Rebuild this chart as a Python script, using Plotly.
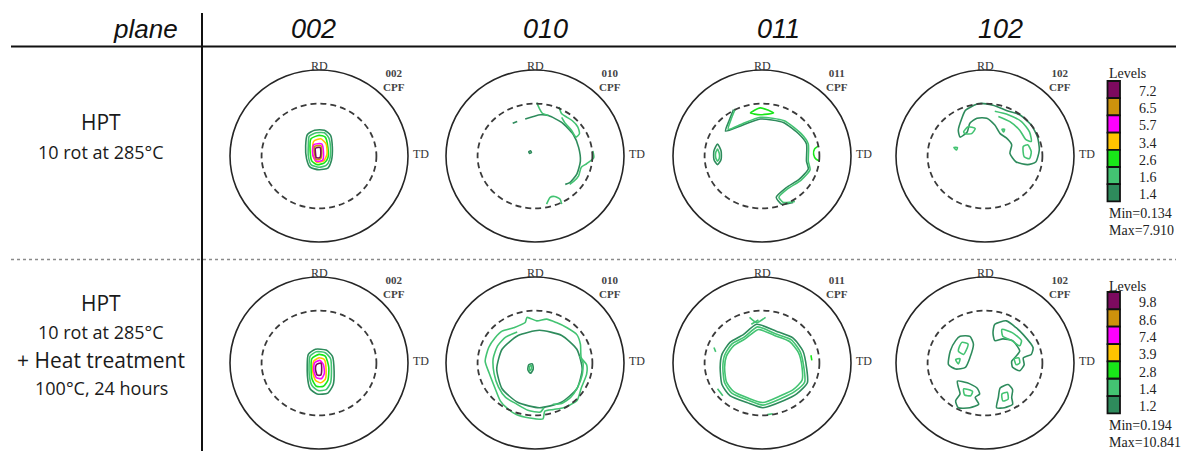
import plotly.graph_objects as go

W, H = 1181, 451

# ---------------------------------------------------------------- data
PLANES = ["002", "010", "011", "102"]
ROW_TEXT = [
    [("HPT", 21), ("10 rot at 285°C", 18)],
    [("HPT", 21), ("10 rot at 285°C", 18), ("+ Heat treatment", 21), ("100°C, 24 hours", 18)],
]

LEVELS_HPT = [7.2, 6.5, 5.7, 3.4, 2.6, 1.6, 1.4]
LEVELS_HT = [9.8, 8.6, 7.4, 3.9, 2.8, 1.4, 1.2]
MIN_MAX_HPT = [0.134, 7.910]
MIN_MAX_HT = [0.194, 10.841]

# colour of each contour level, highest level first
LEVEL_COLORS = ["#7d0a5f", "#cc920c", "#ff00ff", "#ffc400", "#19e619", "#43c372", "#2e8b5c"]

# Contour lines of each pole figure: (level index, closed, [(x, y), ...])
# in units of the pole-figure radius, RD pointing up and TD to the right.
HPT_002 = [
    (6, True, [(-0.13, 0.25), (-0.05, 0.30), (0.06, 0.30), (0.13, 0.24), (0.15, 0.10), (0.14, -0.05),
               (0.10, -0.14), (0.00, -0.16), (-0.10, -0.13), (-0.14, -0.03), (-0.15, 0.12)]),
    (5, True, [(-0.11, 0.23), (-0.03, 0.27), (0.06, 0.27), (0.11, 0.21), (0.13, 0.08), (0.12, -0.04),
               (0.08, -0.11), (0.00, -0.13), (-0.09, -0.10), (-0.12, 0.00), (-0.12, 0.12)]),
    (4, True, [(-0.09, 0.20), (0.00, 0.24), (0.07, 0.22), (0.10, 0.10), (0.10, -0.02), (0.06, -0.08),
               (-0.02, -0.10), (-0.08, -0.06), (-0.10, 0.06)]),
    (3, True, [(-0.06, 0.17), (0.02, 0.20), (0.08, 0.14), (0.09, 0.02), (0.05, -0.06), (-0.03, -0.07),
               (-0.07, 0.01)]),
    (2, True, [(-0.06, 0.13), (0.03, 0.14), (0.05, 0.05), (0.04, -0.05), (-0.03, -0.06), (-0.07, 0.02)]),
    (1, True, [(-0.05, 0.11), (0.02, 0.12), (0.03, 0.04), (0.02, -0.03), (-0.03, -0.04), (-0.05, 0.03)]),
    (0, True, [(-0.04, 0.09), (0.01, 0.10), (0.02, 0.03), (0.01, -0.02), (-0.03, -0.02), (-0.04, 0.04)]),
]

HPT_010 = [
    (6, False, [(-0.11, 0.43), (0.06, 0.48), (0.15, 0.47), (0.30, 0.39), (0.43, 0.25), (0.49, 0.10),
                (0.51, -0.06), (0.47, -0.21), (0.39, -0.31), (0.34, -0.33)]),
    (5, False, [(0.02, 0.62), (0.05, 0.55), (0.08, 0.50), (0.15, 0.47)]),
    (5, False, [(0.27, 0.57), (0.30, 0.49), (0.36, 0.45), (0.42, 0.41), (0.48, 0.34), (0.50, 0.26),
                (0.46, 0.22), (0.41, 0.30), (0.34, 0.38), (0.30, 0.45)]),
    (5, False, [(0.65, 0.06), (0.66, -0.02), (0.58, -0.09), (0.52, -0.13), (0.49, -0.23), (0.44, -0.29),
                (0.39, -0.33)]),
    (5, False, [(0.13, -0.56), (0.17, -0.48), (0.22, -0.47), (0.28, -0.50), (0.30, -0.56)]),
    (6, False, [(-0.25, 0.38), (-0.20, 0.40)]),
    (6, True, [(-0.07, 0.05), (-0.05, 0.06), (-0.04, 0.04), (-0.06, 0.03)]),
]

HPT_011 = [
    (6, False, [(-0.32, 0.54), (-0.37, 0.41), (-0.41, 0.29), (-0.24, 0.35), (-0.02, 0.43), (0.24, 0.39),
                (0.42, 0.25), (0.50, 0.14), (0.50, -0.06), (0.52, -0.15), (0.42, -0.27), (0.27, -0.37),
                (0.16, -0.48), (0.22, -0.56), (0.35, -0.54)]),
    (5, False, [(-0.30, 0.55), (-0.35, 0.42), (-0.38, 0.31), (-0.23, 0.37), (-0.02, 0.45), (0.25, 0.41),
                (0.44, 0.26), (0.52, 0.14), (0.52, -0.06), (0.54, -0.16), (0.44, -0.28), (0.29, -0.38),
                (0.19, -0.48), (0.24, -0.54), (0.37, -0.53)]),
    (4, True, [(-0.13, 0.50), (-0.02, 0.56), (0.13, 0.50), (-0.02, 0.48)]),
    (6, True, [(-0.50, 0.14), (-0.46, 0.06), (-0.46, -0.04), (-0.50, -0.10), (-0.54, -0.04), (-0.54, 0.06)]),
    (5, True, [(-0.50, 0.08), (-0.48, 0.03), (-0.48, -0.03), (-0.50, -0.06), (-0.52, -0.02), (-0.52, 0.04)]),
    (4, False, [(0.64, 0.12), (0.59, 0.08), (0.58, 0.02), (0.61, -0.04), (0.65, -0.06)]),
]

HPT_102 = [
    (6, True, [(-0.22, 0.53), (-0.07, 0.61), (0.09, 0.59), (0.24, 0.53), (0.39, 0.48), (0.52, 0.36),
               (0.59, 0.22), (0.61, 0.07), (0.57, -0.07), (0.48, -0.10), (0.35, -0.07), (0.28, 0.03),
               (0.30, 0.13), (0.24, 0.21), (0.17, 0.26), (0.11, 0.36), (0.02, 0.44), (-0.09, 0.44),
               (-0.17, 0.38), (-0.20, 0.28), (-0.28, 0.22), (-0.30, 0.30), (-0.26, 0.44)]),
    (5, True, [(-0.24, 0.28), (-0.19, 0.34), (-0.11, 0.32), (-0.15, 0.26), (-0.22, 0.26)]),
    (5, False, [(0.11, 0.52), (0.26, 0.48), (0.41, 0.40), (0.50, 0.28), (0.52, 0.17), (0.46, 0.19),
                (0.39, 0.30), (0.28, 0.40), (0.15, 0.46)]),
    (5, True, [(0.43, 0.11), (0.48, 0.13), (0.52, 0.05), (0.50, -0.03), (0.44, -0.01)]),
    (5, True, [(-0.35, 0.10), (-0.31, 0.10), (-0.32, 0.07)]),
    (5, True, [(0.19, 0.31), (0.22, 0.31), (0.21, 0.28)]),
]

HT_002 = [
    (6, True, [(-0.12, 0.10), (-0.04, 0.16), (0.08, 0.15), (0.15, 0.08), (0.17, -0.10), (0.16, -0.25),
               (0.10, -0.35), (-0.02, -0.36), (-0.10, -0.30), (-0.13, -0.15)]),
    (5, True, [(-0.10, 0.08), (-0.03, 0.13), (0.07, 0.12), (0.13, 0.05), (0.14, -0.10), (0.13, -0.23),
               (0.08, -0.31), (-0.01, -0.32), (-0.08, -0.26), (-0.11, -0.13)]),
    (4, True, [(-0.08, 0.05), (0.00, 0.10), (0.07, 0.08), (0.11, -0.05), (0.10, -0.20), (0.05, -0.27),
               (-0.03, -0.27), (-0.08, -0.18)]),
    (3, True, [(-0.06, 0.02), (0.00, 0.06), (0.06, 0.04), (0.08, -0.08), (0.07, -0.19), (0.02, -0.23),
               (-0.04, -0.20), (-0.07, -0.10)]),
    (2, True, [(-0.05, 0.00), (0.01, 0.03), (0.05, -0.02), (0.06, -0.12), (0.03, -0.18), (-0.03, -0.17),
               (-0.06, -0.08)]),
    (0, True, [(-0.03, -0.02), (0.02, 0.00), (0.03, -0.08), (0.02, -0.14), (-0.02, -0.14), (-0.04, -0.07)]),
]

HT_010 = [
    (6, True, [(0.53, -0.07), (0.47, 0.16), (0.30, 0.32), (0.05, 0.38), (-0.19, 0.32), (-0.37, 0.16),
               (-0.43, -0.07), (-0.37, -0.30), (-0.19, -0.46), (0.05, -0.52), (0.29, -0.46), (0.47, -0.30)]),
    (5, True, [(-0.09, 0.53), (0.02, 0.49), (0.13, 0.51), (0.24, 0.47), (0.36, 0.41), (0.47, 0.33),
               (0.51, 0.22), (0.52, 0.06), (0.58, -0.02), (0.58, -0.13), (0.52, -0.29), (0.47, -0.44),
               (0.32, -0.52), (0.21, -0.54), (0.11, -0.56), (0.09, -0.65), (-0.06, -0.64), (-0.21, -0.60),
               (-0.32, -0.52), (-0.39, -0.44), (-0.45, -0.29), (-0.51, -0.13), (-0.56, 0.02), (-0.52, 0.18),
               (-0.45, 0.29), (-0.37, 0.37), (-0.24, 0.41), (-0.11, 0.47)]),
    (5, False, [(-0.20, 0.36), (-0.33, 0.30), (-0.42, 0.20), (-0.47, 0.05), (-0.46, -0.12), (-0.41, -0.28),
                (-0.33, -0.40), (-0.22, -0.47), (-0.08, -0.55), (0.06, -0.57), (0.10, -0.52)]),
    (5, False, [(0.50, 0.08), (0.54, 0.00), (0.53, -0.14), (0.48, -0.28), (0.40, -0.40), (0.30, -0.47),
                (0.20, -0.48)]),
    (6, True, [(-0.07, -0.02), (-0.03, -0.01), (-0.02, -0.07), (-0.05, -0.12), (-0.08, -0.08)]),
    (5, True, [(-0.06, -0.04), (-0.04, -0.03), (-0.04, -0.07), (-0.06, -0.09)]),
]

HT_011 = [
    (6, True, [(-0.06, 0.45), (0.16, 0.37), (0.35, 0.29), (0.46, 0.14), (0.50, -0.05), (0.51, -0.23),
               (0.39, -0.36), (0.24, -0.44), (0.01, -0.52), (-0.17, -0.46), (-0.36, -0.38), (-0.45, -0.25),
               (-0.47, -0.05), (-0.45, 0.10), (-0.36, 0.24), (-0.21, 0.33)]),
    (5, True, [(-0.05, 0.42), (0.15, 0.34), (0.33, 0.27), (0.43, 0.13), (0.47, -0.05), (0.48, -0.22),
               (0.37, -0.33), (0.22, -0.41), (0.01, -0.49), (-0.16, -0.43), (-0.34, -0.35), (-0.42, -0.23),
               (-0.44, -0.05), (-0.42, 0.09), (-0.34, 0.22), (-0.20, 0.30)]),
    (5, True, [(-0.04, 0.39), (0.14, 0.32), (0.31, 0.25), (0.41, 0.12), (0.45, -0.05), (0.45, -0.20),
               (0.35, -0.31), (0.21, -0.38), (0.01, -0.46), (-0.15, -0.41), (-0.32, -0.33), (-0.40, -0.22),
               (-0.42, -0.05), (-0.40, 0.08), (-0.32, 0.20), (-0.19, 0.28)]),
    (5, False, [(-0.14, 0.53), (-0.06, 0.47), (0.04, 0.53)]),
    (5, False, [(-0.12, 0.45), (-0.04, 0.50)]),
    (4, False, [(0.55, 0.09), (0.56, 0.03)]),
    (5, False, [(-0.54, 0.18), (-0.52, 0.13)]),
    (5, False, [(-0.50, -0.30), (-0.44, -0.38)]),
    (5, False, [(0.06, -0.60), (0.12, -0.59)]),
]

HT_102 = [
    (6, True, [(-0.28, 0.31), (-0.17, 0.31), (-0.13, 0.22), (-0.17, 0.06), (-0.22, -0.05), (-0.33, -0.07),
               (-0.41, -0.02), (-0.39, 0.14), (-0.33, 0.26)]),
    (5, True, [(-0.26, 0.24), (-0.19, 0.22), (-0.24, 0.10), (-0.30, 0.14)]),
    (5, True, [(-0.33, 0.04), (-0.28, 0.05), (-0.30, -0.01)]),
    (6, True, [(-0.31, -0.21), (-0.20, -0.23), (-0.09, -0.29), (-0.06, -0.36), (-0.11, -0.40), (-0.07, -0.48),
               (-0.17, -0.52), (-0.30, -0.52), (-0.33, -0.44), (-0.28, -0.36), (-0.30, -0.28)]),
    (5, True, [(-0.24, -0.30), (-0.14, -0.33), (-0.16, -0.38), (-0.23, -0.37)]),
    (6, True, [(0.11, 0.45), (0.24, 0.49), (0.35, 0.41), (0.43, 0.33), (0.54, 0.18), (0.52, 0.10),
               (0.43, 0.06), (0.44, -0.02), (0.39, -0.09), (0.31, -0.05), (0.30, 0.02), (0.35, 0.08),
               (0.39, 0.14), (0.31, 0.26), (0.20, 0.28), (0.11, 0.26), (0.09, 0.35)]),
    (5, True, [(0.19, 0.39), (0.31, 0.35), (0.41, 0.26), (0.39, 0.20), (0.30, 0.26), (0.20, 0.31)]),
    (5, True, [(0.33, 0.05), (0.38, 0.06), (0.39, 0.00), (0.35, -0.02)]),
    (6, True, [(0.17, -0.29), (0.26, -0.25), (0.31, -0.31), (0.30, -0.40), (0.31, -0.48), (0.22, -0.52),
               (0.13, -0.52), (0.15, -0.40)]),
    (5, True, [(0.19, -0.36), (0.25, -0.34), (0.26, -0.42), (0.20, -0.44)]),
]

PANELS = [[HPT_002, HPT_010, HPT_011, HPT_102], [HT_002, HT_010, HT_011, HT_102]]
LEGENDS = [(LEVELS_HPT, MIN_MAX_HPT), (LEVELS_HT, MIN_MAX_HT)]

# ---------------------------------------------------------------- layout geometry (pixels)
COL_CX = [319, 535, 762, 985]
ROW_CY = [156, 363]
RX, RY = 89, 86
EXT = 1.22
DASH_RX, DASH_RY = 0.645, 0.61
HEAD_X = [145, 313, 545, 778, 1000]
HEAD_Y = 29
ROW_TEXT_Y = [[122, 152], [303, 332, 360, 388]]
LEG_TOP = [81, 292]
LEG_STEP = [17.2, 17.35]
LEG_LABEL_Y = [73, 286]
LEG_MINMAX_Y = [[213, 230], [425, 442]]

SERIF = "Liberation Serif, Times New Roman, serif"
SANS = "Liberation Sans, Arial, sans-serif"
BODY = "Open Sans, Noto Sans, sans-serif"


def px(x):
    return x / W


def py(y):
    return 1 - y / H


def note(x, y, text, size, family, xanchor="center", color="#222", **kw):
    return dict(xref="paper", yref="paper", x=px(x), y=py(y), text=text, showarrow=False,
                xanchor=xanchor, yanchor="middle", font=dict(family=family, size=size, color=color), **kw)


fig = go.Figure()
shapes = []
annotations = []
layout_axes = {}

n = 0
for r, row in enumerate(PANELS):
    for c, contours in enumerate(row):
        n += 1
        cx, cy = COL_CX[c], ROW_CY[r]
        x0p, x1p = cx - EXT * RX, cx + EXT * RX
        top_p, bot_p = max(cy - EXT * RY, 0), min(cy + EXT * RY, H)
        sfx = "" if n == 1 else str(n)
        xa, ya = f"x{sfx}", f"y{sfx}"
        layout_axes[f"xaxis{sfx}"] = dict(domain=[px(x0p), px(x1p)], range=[(x0p - cx) / RX, (x1p - cx) / RX],
                                          visible=False, fixedrange=True, anchor=ya)
        layout_axes[f"yaxis{sfx}"] = dict(domain=[py(bot_p), py(top_p)], range=[(cy - bot_p) / RY, (cy - top_p) / RY],
                                          visible=False, fixedrange=True, anchor=xa)

        # reference circle of the projection and the dashed inner circle
        shapes.append(dict(type="circle", xref=xa, yref=ya, x0=-1, x1=1, y0=-1, y1=1,
                           line=dict(color="#262626", width=1.6)))
        shapes.append(dict(type="circle", xref=xa, yref=ya, x0=-DASH_RX, x1=DASH_RX, y0=-DASH_RY, y1=DASH_RY,
                           line=dict(color="#3a3a3a", width=1.8, dash="6px,4px")))

        for lvl, closed, pts in contours:
            xs = [p[0] for p in pts]
            ys = [p[1] for p in pts]
            if closed:
                xs.append(xs[0])
                ys.append(ys[0])
            fig.add_trace(go.Scatter(x=xs, y=ys, mode="lines", xaxis=xa, yaxis=ya,
                                     line=dict(color=LEVEL_COLORS[lvl], width=1.6, shape="spline", smoothing=0.6),
                                     hoverinfo="skip", showlegend=False))

        annotations.append(dict(xref=xa, yref=ya, x=0, y=1.0, text="RD", showarrow=False, xanchor="center",
                                yanchor="bottom", yshift=-5, font=dict(family=SERIF, size=12, color="#333")))
        annotations.append(dict(xref=xa, yref=ya, x=1.03, y=0.02, text="TD", showarrow=False, xanchor="left",
                                yanchor="middle", font=dict(family=SERIF, size=12, color="#333")))
        annotations.append(dict(xref=xa, yref=ya, x=0.84, y=0.88, text=f"<b>{PLANES[c]}<br>CPF</b>",
                                showarrow=False, xanchor="center", yanchor="middle", align="center",
                                font=dict(family=SERIF, size=11, color="#444")))

# column headers
annotations.append(note(HEAD_X[0], HEAD_Y, "<i>plane</i>", 26, SANS, color="#111"))
for c, plane in enumerate(PLANES):
    annotations.append(note(HEAD_X[c + 1], HEAD_Y, f"<i>{plane}</i>", 27, SANS, color="#111"))

# row descriptions
for r, lines in enumerate(ROW_TEXT):
    for (txt, size), y in zip(lines, ROW_TEXT_Y[r]):
        annotations.append(note(101, y, txt, size, BODY, color="#1a1a1a"))

# level legends
for r, (levels, (vmin, vmax)) in enumerate(LEGENDS):
    annotations.append(note(1107, LEG_LABEL_Y[r], "Levels", 14, SERIF, xanchor="left"))
    for i, v in enumerate(levels):
        t = LEG_TOP[r] + i * LEG_STEP[r]
        shapes.append(dict(type="rect", xref="paper", yref="paper", x0=px(1107.5), x1=px(1120),
                           y0=py(t + LEG_STEP[r]), y1=py(t), fillcolor=LEVEL_COLORS[i],
                           line=dict(color="#111", width=1.8)))
        annotations.append(note(1159, t + LEG_STEP[r] / 2 + 2, f"{v:.1f}", 14, SERIF, xanchor="right"))
    annotations.append(note(1107, LEG_MINMAX_Y[r][0], f"Min={vmin:.3f}", 14, SERIF, xanchor="left"))
    annotations.append(note(1107, LEG_MINMAX_Y[r][1], f"Max={vmax:.3f}", 14, SERIF, xanchor="left"))

# table rules
shapes.append(dict(type="line", xref="paper", yref="paper", x0=px(11), x1=px(1176), y0=py(46.5), y1=py(46.5),
                   line=dict(color="#111", width=2)))
shapes.append(dict(type="line", xref="paper", yref="paper", x0=px(202), x1=px(202), y0=py(13), y1=py(H),
                   line=dict(color="#111", width=2)))
shapes.append(dict(type="line", xref="paper", yref="paper", x0=px(11), x1=px(1176), y0=py(259.5), y1=py(259.5),
                   line=dict(color="#8a8a8a", width=1.5, dash="dot")))

fig.update_layout(width=W, height=H, margin=dict(l=0, r=0, t=0, b=0), paper_bgcolor="white",
                  plot_bgcolor="rgba(0,0,0,0)", shapes=shapes, annotations=annotations, **layout_axes)

fig.write_html("out.html", config={"displayModeBar": False})
